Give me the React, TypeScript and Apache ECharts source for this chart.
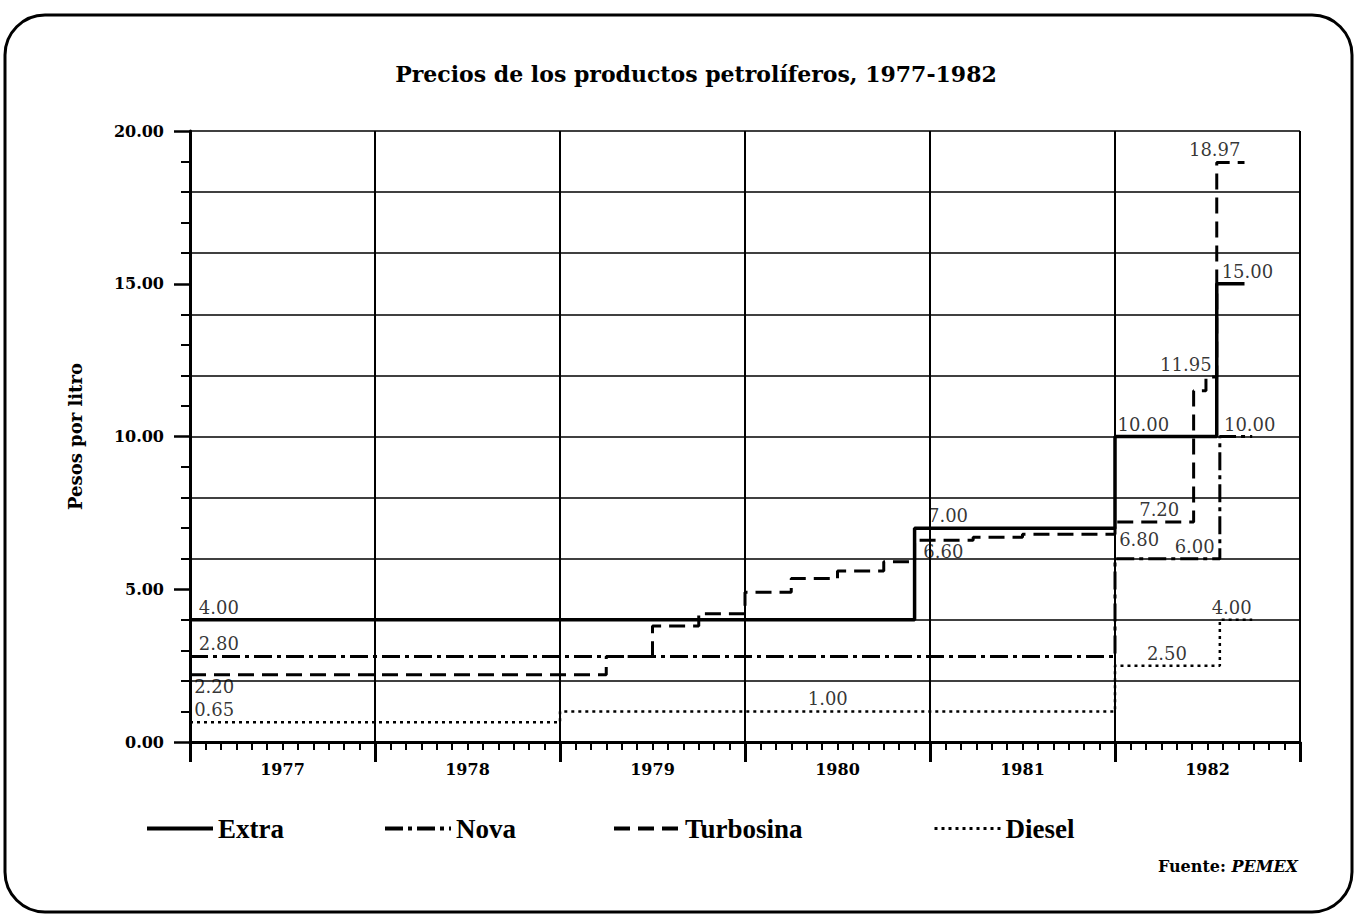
import React, { useEffect, useRef } from "react";
import * as echarts from "echarts";

// ---- Data (x = months since January 1977) ----
const years = ["1977", "1978", "1979", "1980", "1981", "1982"];

const extraX = [0, 47, 60, 66.6, 68.4];
const extraY = [4.0, 7.0, 10.0, 15.0, 15.0];

const novaX = [0, 60, 66.8, 68.9];
const novaY = [2.8, 6.0, 10.0, 10.0];

const turboX = [0, 27, 30, 33, 36, 39, 42, 45, 47, 50.8, 54, 60, 65.1, 65.9, 66.6, 68.4];
const turboY = [2.2, 2.8, 3.8, 4.2, 4.9, 5.35, 5.6, 5.9, 6.6, 6.7, 6.8, 7.2, 11.5, 11.95, 18.97, 18.97];

const dieselX = [0, 24, 60, 66.8, 68.9];
const dieselY = [0.65, 1.0, 2.5, 4.0, 4.0];

// value annotations: text, anchor month, anchor value, alignment, placement
const annotations = [
  { text: "4.00", m: 0.6, v: 4.0, align: "left", place: "above" },
  { text: "2.80", m: 0.6, v: 2.8, align: "left", place: "above" },
  { text: "2.20", m: 0.3, v: 2.2, align: "left", place: "below" },
  { text: "0.65", m: 0.3, v: 0.65, align: "left", place: "above" },
  { text: "1.00", m: 41.4, v: 1.0, align: "center", place: "above" },
  { text: "7.00", m: 47.9, v: 7.0, align: "left", place: "above" },
  { text: "6.60", m: 47.6, v: 6.6, align: "left", place: "below" },
  { text: "10.00", m: 60.2, v: 10.0, align: "left", place: "above" },
  { text: "7.20", m: 62.9, v: 7.2, align: "center", place: "above" },
  { text: "6.80", m: 60.3, v: 6.6, align: "left", place: "middle" },
  { text: "6.00", m: 66.5, v: 6.0, align: "right", place: "above" },
  { text: "11.95", m: 66.3, v: 11.95, align: "right", place: "above" },
  { text: "18.97", m: 66.5, v: 18.97, align: "center", place: "above" },
  { text: "15.00", m: 66.95, v: 15.0, align: "left", place: "above" },
  { text: "10.00", m: 67.1, v: 10.0, align: "left", place: "above" },
  { text: "4.00", m: 67.6, v: 4.0, align: "center", place: "above" },
  { text: "2.50", m: 63.4, v: 2.5, align: "center", place: "above" },
];

const ink = "#000";
const serif = "'DejaVu Serif', 'Liberation Serif', serif";
const legendFont = "'Liberation Serif', 'DejaVu Serif', serif";

const zip = (xs: number[], ys: number[]) => xs.map((x, i) => [x, ys[i]]);

function buildOption() {
  const lineSeries = (name: string, xs: number[], ys: number[], type: any, width: number) => ({
    name,
    type: "line",
    step: "end",
    symbol: "none",
    color: ink,
    xAxisIndex: 0,
    yAxisIndex: 0,
    z: 3,
    data: zip(xs, ys),
    lineStyle: { color: ink, width, type, cap: "butt" },
  });

  const labelData = annotations.map((a) => ({
    value: [a.m, a.v],
    label: {
      show: true,
      formatter: a.text,
      position: [0, 0],
      align: a.align,
      verticalAlign: a.place === "above" ? "bottom" : a.place === "below" ? "top" : "middle",
      offset: [0, a.place === "above" ? -3 : a.place === "below" ? 3 : 0],
      color: ink,
      fontFamily: serif,
      fontSize: 18,
    },
  }));

  const legendText = { color: ink, fontFamily: legendFont, fontSize: 27, fontWeight: "bold" };
  const legendBase = {
    top: 810,
    itemWidth: 66,
    itemHeight: 14,
    itemGap: 4,
    textStyle: legendText,
    itemStyle: { opacity: 0 },
    lineStyle: { width: 4 },
  };

  return {
    animation: false,
    backgroundColor: "#fff",
    title: {
      text: "Precios de los productos petrolíferos, 1977-1982",
      left: 691,
      textAlign: "center",
      top: 58,
      textStyle: { color: ink, fontFamily: serif, fontSize: 22, fontWeight: "bold" },
    },
    grid: { left: 190, right: 60, top: 131, bottom: 178 },
    legend: [
      { ...legendBase, left: 140, data: ["Extra"] },
      { ...legendBase, left: 378, data: ["Nova"] },
      { ...legendBase, left: 607, data: ["Turbosina"] },
      { ...legendBase, left: 928, data: ["Diesel"], lineStyle: { width: 3 } },
    ],
    xAxis: [
      {
        type: "value",
        min: 0,
        max: 72,
        interval: 12,
        axisLine: { show: true, lineStyle: { color: ink, width: 3 } },
        axisTick: { show: true, length: 20, lineStyle: { color: ink, width: 3 } },
        minorTick: { show: true, splitNumber: 12, length: 8, lineStyle: { color: ink, width: 2 } },
        axisLabel: { show: false },
        splitLine: { show: true, lineStyle: { color: ink, width: 2 } },
      },
      {
        type: "value",
        min: 0,
        max: 72,
        interval: 6,
        position: "bottom",
        axisLine: { show: false },
        axisTick: { show: false },
        splitLine: { show: false },
        axisLabel: {
          margin: 19,
          color: ink,
          fontFamily: serif,
          fontSize: 16,
          fontWeight: "bold",
          formatter: (v: number) => (v % 12 === 6 ? years[(v - 6) / 12] : ""),
        },
      },
    ],
    yAxis: [
      {
        type: "value",
        min: 0,
        max: 20,
        interval: 5,
        name: "Pesos por litro",
        nameLocation: "middle",
        nameRotate: 90,
        nameGap: 106,
        nameTextStyle: { color: ink, fontFamily: serif, fontSize: 18, fontWeight: "bold" },
        axisLine: { show: true, lineStyle: { color: ink, width: 3 } },
        axisTick: { show: true, length: 16, lineStyle: { color: ink, width: 2.5 } },
        minorTick: { show: true, splitNumber: 5, length: 9, lineStyle: { color: ink, width: 2 } },
        axisLabel: {
          margin: 26,
          color: ink,
          fontFamily: serif,
          fontSize: 16,
          fontWeight: "bold",
          formatter: (v: number) => v.toFixed(2),
        },
        splitLine: { show: false },
      },
      {
        type: "value",
        min: 0,
        max: 20,
        interval: 2,
        axisLine: { show: false },
        axisTick: { show: false },
        axisLabel: { show: false },
        splitLine: { show: true, lineStyle: { color: ink, width: 1.5 } },
      },
    ],
    series: [
      lineSeries("Extra", extraX, extraY, "solid", 3.5),
      lineSeries("Nova", novaX, novaY, [18, 5, 4, 5], 3),
      lineSeries("Turbosina", turboX, turboY, [16, 8], 3),
      lineSeries("Diesel", dieselX, dieselY, [3, 4], 2.5),
      {
        name: "valores",
        type: "scatter",
        xAxisIndex: 0,
        yAxisIndex: 0,
        symbolSize: 1,
        itemStyle: { color: "rgba(0,0,0,0)" },
        z: 4,
        data: labelData,
      },
    ],
    graphic: [
      {
        type: "rect",
        shape: { x: 5, y: 15, width: 1347, height: 897, r: 40 },
        style: { fill: "none", stroke: ink, lineWidth: 3 },
        silent: true,
      },
      {
        type: "text",
        right: 62,
        top: 858,
        style: {
          text: "{b|Fuente: }{i|PEMEX}",
          rich: {
            b: { fontFamily: serif, fontSize: 16, fontWeight: "bold", fill: ink },
            i: { fontFamily: serif, fontSize: 16, fontWeight: "bold", fontStyle: "italic", fill: ink },
          },
        },
      },
    ],
  };
}

export default function App() {
  const ref = useRef<HTMLDivElement>(null);
  useEffect(() => {
    if (!ref.current) return;
    const chart = echarts.init(ref.current, null, { renderer: "svg" });
    chart.setOption(buildOption() as any);
    return () => chart.dispose();
  }, []);
  return (
    <div
      ref={ref}
      style={{ position: "fixed", left: 0, top: 0, width: 1360, height: 920, background: "#fff" }}
    />
  );
}
